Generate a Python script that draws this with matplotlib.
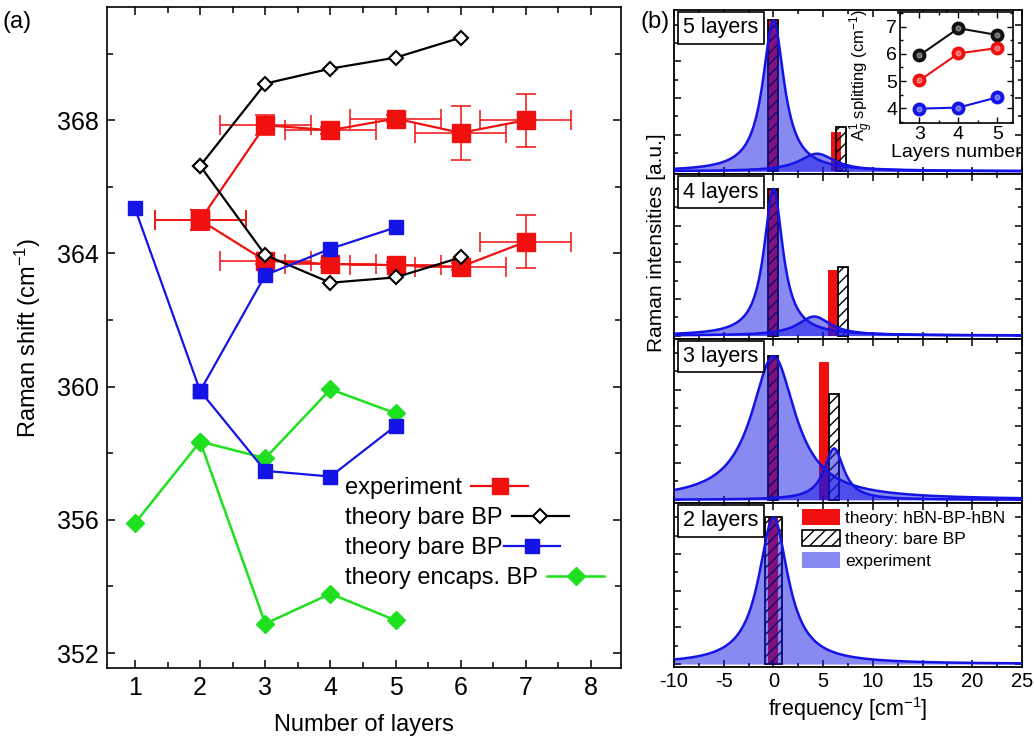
import matplotlib
matplotlib.use('Agg')
import matplotlib.pyplot as plt
import numpy as np
from matplotlib.patches import Patch
from matplotlib.lines import Line2D
from matplotlib.ticker import MultipleLocator

plt.rcParams['font.family'] = ['Liberation Sans', 'DejaVu Sans']
plt.rcParams['mathtext.fontset'] = 'custom'
plt.rcParams['mathtext.rm'] = 'Liberation Sans'
plt.rcParams['mathtext.it'] = 'Liberation Sans:italic'
plt.rcParams['hatch.linewidth'] = 1.0
plt.rcParams['axes.unicode_minus'] = False

# ---------------- data: panel (a) ----------------
layers_exp = [2, 3, 4, 5, 6, 7]
exp_upper = [365.0, 367.85, 367.7, 368.05, 367.62, 368.0]
exp_lower = [365.0, 363.78, 363.68, 363.65, 363.6, 364.35]
exp_xerr = [0.7, 0.7, 0.7, 0.7, 0.7, 0.7]
exp_upper_yerr = [0.3, 0.3, 0.1, 0.1, 0.8, 0.8]
exp_lower_yerr = [0.3, 0.1, 0.1, 0.1, 0.1, 0.8]

layers_black = [2, 3, 4, 5, 6]
black_upper = [366.63, 369.1, 369.55, 369.88, 370.48]
black_lower = [366.63, 363.95, 363.12, 363.28, 363.88]

layers_blue = [1, 2, 3, 4, 5]
blue_lower = [365.35, 359.87, 357.47, 357.3, 358.82]
layers_blue_up = [2, 3, 4, 5]
blue_upper = [359.87, 363.35, 364.14, 364.78]

layers_green = [1, 2, 3, 4, 5]
green_upper = [355.9, 358.35, 357.85, 359.92, 359.2]
layers_green_low = [2, 3, 4, 5]
green_lower = [358.35, 352.88, 353.78, 352.98]

legend_labels_a = ['experiment', 'theory bare BP', 'theory bare BP', 'theory encaps. BP']

# ---------------- data: panel (b) ----------------
panel_names = ['5 layers', '4 layers', '3 layers', '2 layers']
# Lorentzian fit peaks: (centre, amplitude, half width)
main_peaks = [(0.0, 1.03, 1.3), (0.0, 1.0, 1.15), (0.0, 0.98, 2.7), (0.0, 1.0, 1.8)]
second_peaks = [(4.4, 0.12, 2.2), (4.1, 0.13, 2.0), (6.1, 0.35, 1.2), None]
red_pos = [[0.0, 6.3], [0.0, 5.95], [0.0, 5.1], [0.0]]
red_h = [[1.03, 0.27], [1.0, 0.45], [0.98, 0.94], [1.0]]
hatch_pos = [[0.0, 6.75], [0.0, 6.95], [0.0, 6.1], [0.0]]
hatch_h = [[1.03, 0.30], [1.0, 0.47], [0.98, 0.72], [1.0]]
hatch_w = [[1.0, 1.0], [1.0, 1.0], [1.0, 1.0], [1.7]]
legend_labels_b = ['theory: hBN-BP-hBN', 'theory: bare BP', 'experiment']

# inset
inset_layers = [3, 4, 5]
split_black = [5.95, 6.95, 6.7]
split_red = [5.02, 6.02, 6.22]
split_blue = [3.98, 4.02, 4.4]

# ---------------- figure ----------------
W, H = 1034, 738
fig = plt.figure(figsize=(W / 100, H / 100), dpi=100)


def fbox(l, t, r, b):
    return [l / W, 1 - b / H, (r - l) / W, (b - t) / H]


RED = '#f01010'
BLUE = '#1414e6'
GREEN = '#1ee01e'

ax = fig.add_axes(fbox(107, 7, 621, 668))
ax.plot(layers_green, green_upper, '-D', color=GREEN, ms=9.5, lw=1.8, zorder=2)
ax.plot(layers_green_low, green_lower, '-D', color=GREEN, ms=9.5, lw=1.8, zorder=2)
for yv, ye in [(exp_upper, exp_upper_yerr), (exp_lower, exp_lower_yerr)]:
    ax.errorbar(layers_exp, yv, xerr=exp_xerr, yerr=ye, fmt='-s', color=RED,
                ms=12.5, lw=1.6, elinewidth=1.1, capsize=7, capthick=1.1, zorder=3)
ax.plot(layers_black, black_upper, '-D', color='black', mfc='white', mec='black',
        mew=1.5, ms=7, lw=1.6, zorder=4)
ax.plot(layers_black, black_lower, '-D', color='black', mfc='white', mec='black',
        mew=1.5, ms=7, lw=1.6, zorder=4)
ax.plot(layers_blue, blue_lower, '-s', color=BLUE, ms=9.5, lw=1.6, zorder=5)
ax.plot(layers_blue_up, blue_upper, '-s', color=BLUE, ms=9.5, lw=1.6, zorder=5)

ax.set_xlim(0.57, 8.46)
ax.set_ylim(351.55, 371.4)
ax.xaxis.set_major_locator(MultipleLocator(1))
ax.xaxis.set_minor_locator(MultipleLocator(0.5))
ax.yaxis.set_major_locator(MultipleLocator(4))
ax.yaxis.set_minor_locator(MultipleLocator(2))
ax.tick_params(which='both', direction='in', top=True, right=True, labelsize=18, width=1.1)
ax.tick_params(which='major', length=6, pad=6)
ax.tick_params(which='minor', length=4)
for s in ax.spines.values():
    s.set_linewidth(1.2)
ax.set_xlabel('Number of layers', fontsize=17, labelpad=10)
ax.set_ylabel('Raman shift (cm$^{-1}$)', fontsize=17, labelpad=10)

# legend rows (text first, then sample)
handles_a = [
    Line2D([], [], color=RED, marker='s', ms=12, lw=1.6),
    Line2D([], [], color='black', marker='D', mfc='white', mec='black', mew=1.5, ms=7, lw=1.6),
    Line2D([], [], color=BLUE, marker='s', ms=9.5, lw=1.6),
    Line2D([], [], color=GREEN, marker='D', ms=9.5, lw=1.8),
]
row_y = [488, 518, 548, 578]
pads = [0.4, 0.4, 0.05, 0.4]
for h, lab, yy, pd in zip(handles_a, legend_labels_a, row_y, pads):
    lg = fig.legend([h], [lab], loc='center left', bbox_to_anchor=(345 / W, 1 - yy / H),
                    bbox_transform=fig.transFigure, frameon=False, markerfirst=False,
                    fontsize=17, borderpad=0, borderaxespad=0, handlelength=2.4,
                    handletextpad=pd, numpoints=1)

# ---------------- panel (b) ----------------
freq = np.linspace(-10, 25, 1401)


def lorentz(x, c, a, g):
    return a * g ** 2 / ((x - c) ** 2 + g ** 2)


panel_h = (667 - 10) / 4.0
axes_b = []
for i, name in enumerate(panel_names):
    top = 10 + i * panel_h
    axp = fig.add_axes(fbox(674, top, 1022, top + panel_h))
    axes_b.append(axp)
    axp.bar(red_pos[i], red_h[i], width=1.0, color=RED, zorder=1)
    axp.bar(hatch_pos[i], hatch_h[i], width=hatch_w[i], facecolor='none', edgecolor='black',
            hatch='///', lw=1.3, zorder=2)
    peaks = [main_peaks[i]] + ([second_peaks[i]] if second_peaks[i] is not None else [])
    for (c, a, g) in peaks:
        yv = lorentz(freq, c, a, g)
        axp.fill_between(freq, 0, yv, color=BLUE, alpha=0.5, lw=0, zorder=3)
        axp.plot(freq, yv, color=BLUE, lw=1.8, zorder=4)
    axp.set_xlim(-10, 25)
    axp.set_ylim(-0.02, 1.1)
    axp.xaxis.set_major_locator(MultipleLocator(5))
    axp.xaxis.set_minor_locator(MultipleLocator(2.5))
    axp.yaxis.set_major_locator(MultipleLocator(0.25))
    axp.yaxis.set_minor_locator(MultipleLocator(0.125))
    axp.tick_params(which='both', direction='in', top=True, right=True, width=1.1,
                    labelleft=False, labelsize=14.5)
    axp.tick_params(which='major', length=5)
    axp.tick_params(which='minor', length=3)
    if i < 3:
        axp.tick_params(labelbottom=False)
    for s in axp.spines.values():
        s.set_linewidth(1.3)
    axp.text(0.027, 0.955, name, transform=axp.transAxes, ha='left', va='top', fontsize=15.5,
             bbox=dict(boxstyle='square,pad=0.25', fc='white', ec='black', lw=1.2), zorder=10)

axb = axes_b[-1]
axb.set_xlabel('frequency [cm$^{-1}$]', fontsize=15.5, labelpad=3)
handles_b = [Patch(facecolor=RED, edgecolor='none'),
             Patch(facecolor='white', edgecolor='black', hatch='///', lw=1.2),
             Patch(facecolor=BLUE, alpha=0.5, edgecolor='none')]
axb.legend(handles_b, legend_labels_b, loc='upper left', bbox_to_anchor=(802 / W, 1 - 509 / H),
           bbox_transform=fig.transFigure, frameon=False, fontsize=12.5, borderpad=0,
           borderaxespad=0, handlelength=2.2, handleheight=1.05, handletextpad=0.3,
           labelspacing=0.25)

fig.text(657 / W, 1 - 243 / H, 'Raman intensities [a.u.]', rotation=90, ha='center',
         va='center', fontsize=15)

# inset
axi = fig.add_axes(fbox(900, 12, 1013, 123))
for yv, col in [(split_black, '#101010'), (split_red, RED), (split_blue, BLUE)]:
    axi.plot(inset_layers, yv, '-o', color=col, ms=9, lw=1.5, zorder=3)
    axi.plot(inset_layers, yv, 'o', color='white', alpha=0.35, ms=3.5, zorder=4)
axi.set_xlim(2.5, 5.4)
axi.set_ylim(3.45, 7.55)
axi.xaxis.set_major_locator(MultipleLocator(1))
axi.xaxis.set_minor_locator(MultipleLocator(0.5))
axi.yaxis.set_major_locator(MultipleLocator(1))
axi.yaxis.set_minor_locator(MultipleLocator(0.5))
axi.tick_params(which='both', direction='in', top=True, right=True, labelsize=14, width=1.0,
                pad=2)
axi.tick_params(which='major', length=4)
axi.tick_params(which='minor', length=2.5)
for s in axi.spines.values():
    s.set_linewidth(1.2)
axi.set_xlabel('Layers number', fontsize=14, labelpad=1)
axi.set_ylabel('A$^1_g$ splitting (cm$^{-1}$)', fontsize=12)
axi.yaxis.set_label_coords(-0.21, 0.43)

fig.text(3 / W, 1 - 28 / H, '(a)', fontsize=17)
fig.text(640 / W, 1 - 28 / H, '(b)', fontsize=17)

fig.savefig('out.png', dpi=100)
